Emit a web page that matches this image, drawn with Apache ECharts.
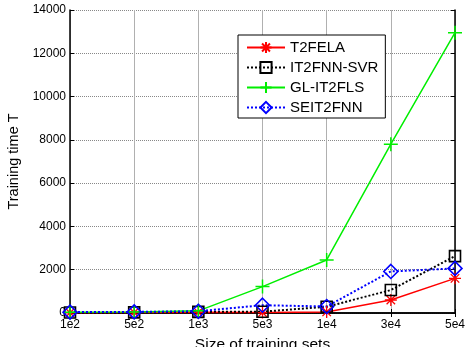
<!DOCTYPE html>
<html><head><meta charset="utf-8">
<script src="https://cdn.jsdelivr.net/npm/echarts@6/dist/echarts.min.js"></script>
<style>html,body{margin:0;padding:0;background:#fff}#c{width:465px;height:347px}</style>
</head><body><div id="c"></div>
<script>
const categories = ['1e2','5e2','1e3','5e3','1e4','3e4','5e4'];
const yTicks = [0,2000,4000,6000,8000,10000,12000,14000];
const t2fela = [10,20,30,20,50,600,1600];
const it2fnnSvr = [20,30,50,60,290,1060,2630];
const glIt2fls = [30,50,100,1220,2450,7800,12950];
const seit2fnn = [40,50,80,360,300,1920,2060];

const font = 'Liberation Sans, Arial, sans-serif';
const asterisk = 'path://M0,-10L0,10M-10,0L10,0M-7.07,-7.07L7.07,7.07M-7.07,7.07L7.07,-7.07';
const plus = 'path://M0,-10L0,10M-10,0L10,0';

const chart = echarts.init(document.getElementById('c'));
chart.setOption({
  animation: false,
  backgroundColor: '#fff',
  grid: {left: 70, right: 10, top: 10, bottom: 34, outerBoundsMode: 'none', containLabel: false},
  legend: {
    orient: 'vertical', left: 238, top: 35,
    backgroundColor: '#fff', borderColor: '#000', borderWidth: 1,
    padding: [5, 7, 3, 8], itemGap: 5, itemWidth: 38, itemHeight: 14,
    textStyle: {fontFamily: font, fontSize: 15, color: '#000'},
    data: ['T2FELA','IT2FNN-SVR','GL-IT2FLS','SEIT2FNN']
  },
  xAxis: [{
    type: 'category', data: categories, boundaryGap: false,
    name: 'Size of training sets', nameLocation: 'middle', nameGap: 24,
    nameTextStyle: {fontFamily: font, fontSize: 15.5, color: '#000'},
    axisLine: {lineStyle: {color: '#000', width: 1.5}},
    axisTick: {inside: true, length: 4, lineStyle: {color: '#000'}},
    axisLabel: {fontFamily: font, fontSize: 12, color: '#000', margin: 6},
    splitLine: {show: true, lineStyle: {color: '#b0b0b0', width: 1}}
  },{
    type: 'category', data: categories, boundaryGap: false, position: 'top',
    axisLine: {lineStyle: {color: '#000', width: 1.5}},
    axisTick: {inside: true, length: 4, lineStyle: {color: '#000'}},
    axisLabel: {show: false}, splitLine: {show: false}
  }],
  yAxis: [{
    type: 'value', min: yTicks[0], max: yTicks[yTicks.length - 1], interval: 2000,
    name: 'Training time T', nameLocation: 'middle', nameGap: 46,
    nameTextStyle: {fontFamily: font, fontSize: 14.5, color: '#000'},
    axisLine: {show: true, lineStyle: {color: '#000', width: 1.5}},
    axisTick: {show: true, inside: true, length: 4, lineStyle: {color: '#000'}},
    axisLabel: {fontFamily: font, fontSize: 12, color: '#000', margin: 4,
                formatter: v => String(v)},
    splitLine: {show: true, lineStyle: {color: '#888', type: [1, 1], width: 1}}
  },{
    type: 'value', min: yTicks[0], max: yTicks[yTicks.length - 1], interval: 2000, position: 'right',
    axisLine: {show: true, lineStyle: {color: '#000', width: 1.5}},
    axisTick: {show: true, inside: true, length: 4, lineStyle: {color: '#000'}},
    axisLabel: {show: false}, splitLine: {show: false}
  }],
  series: [
    {name: 'T2FELA', type: 'line', data: t2fela, symbol: asterisk, symbolSize: 12,
     lineStyle: {color: '#ff0000', width: 1.5},
     itemStyle: {color: '#ff0000', borderColor: '#ff0000', borderWidth: 1.3}},
    {name: 'IT2FNN-SVR', type: 'line', data: it2fnnSvr, symbol: 'rect', symbolSize: 11,
     lineStyle: {color: '#000', width: 2, type: [2, 2]},
     itemStyle: {color: 'rgba(255,255,255,0)', borderColor: '#000', borderWidth: 1.6}},
    {name: 'GL-IT2FLS', type: 'line', data: glIt2fls, symbol: plus, symbolSize: 14,
     lineStyle: {color: '#00ee00', width: 1.5},
     itemStyle: {color: '#00ee00', borderColor: '#00ee00', borderWidth: 1.5}},
    {name: 'SEIT2FNN', type: 'line', data: seit2fnn, symbol: 'diamond', symbolSize: 14,
     lineStyle: {color: '#0000ff', width: 2, type: [2, 2]},
     itemStyle: {color: 'rgba(255,255,255,0)', borderColor: '#0000ff', borderWidth: 1.6}}
  ]
});
</script></body></html>
